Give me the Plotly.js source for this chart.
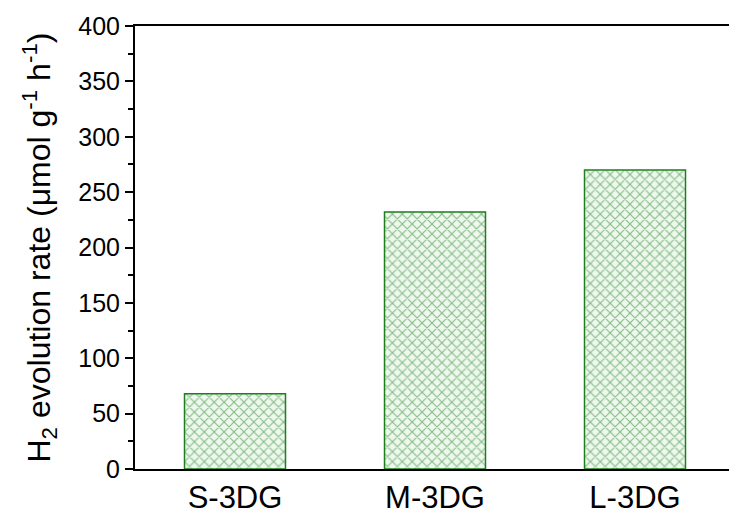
<!DOCTYPE html>
<html>
<head>
<meta charset="utf-8">
<script src="https://cdn.plot.ly/plotly-3.0.1.min.js"></script>
<style>html,body{margin:0;padding:0;background:#fff;}</style>
</head>
<body>
<div id="chart" style="width:729px;height:514px;"></div>
<script>
const categories = ["S-3DG", "M-3DG", "L-3DG"];
const rates = [68, 232, 270];
const yTicks = [0, 50, 100, 150, 200, 250, 300, 350, 400];
const yMinorTicks = [25, 75, 125, 175, 225, 275, 325, 375];

const green = "#1f7f1f";

const traceA = {
  type: "bar",
  x: categories,
  y: rates,
  width: 0.505,
  marker: {
    color: "rgba(255,255,255,0)",
    line: {color: green, width: 1.5},
    pattern: {shape: "x", fgcolor: green, bgcolor: "#eef8ee", size: 7, solidity: 0.3, fillmode: "overlay"}
  },
  hoverinfo: "skip"
};

const layout = {
  width: 729, height: 514,
  margin: {l: 135, r: 0, t: 26, b: 45},
  paper_bgcolor: "#fff", plot_bgcolor: "#fff",
  showlegend: false,
  font: {family: "Liberation Sans, Arial, sans-serif", color: "#000"},
  xaxis: {
    type: "category",
    range: [-0.5, 2.47],
    showline: true, linecolor: "#000", linewidth: 2, mirror: true,
    ticks: "", showgrid: false, zeroline: false,
    tickfont: {size: 31}
  },
  yaxis: {
    range: [0, 400],
    tickvals: yTicks,
    ticktext: yTicks.map(String),
    showline: true, linecolor: "#000", linewidth: 2, mirror: false,
    ticks: "outside", ticklen: 8, tickwidth: 2, tickcolor: "#000",
    minor: {tickvals: yMinorTicks, ticks: "outside", ticklen: 5, tickwidth: 2, tickcolor: "#000"},
    showgrid: false, zeroline: false,
    tickfont: {size: 25},
    title: {text: "H<sub>2</sub> evolution rate (μmol g<sup>-1</sup> h<sup>-1</sup>)", font: {size: 32}, standoff: 18}
  }
};

Plotly.newPlot("chart", [traceA], layout, {displayModeBar: false, staticPlot: true});
</script>
</body>
</html>
